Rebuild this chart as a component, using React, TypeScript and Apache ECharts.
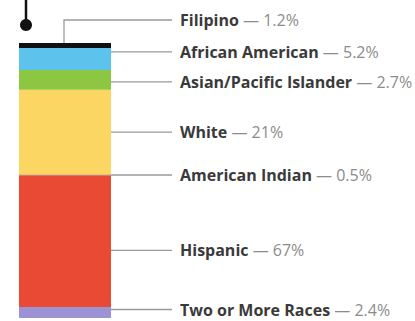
import React, { useEffect, useRef } from "react";
import * as echarts from "echarts";

// Categories, top to bottom as drawn
const categories = [
  "Filipino",
  "African American",
  "Asian/Pacific Islander",
  "White",
  "American Indian",
  "Hispanic",
  "Two or More Races",
];
// Reported shares (%)
const percents = [1.2, 5.2, 2.7, 21, 0.5, 67, 2.4];
// Band heights as drawn in the reference bar (not proportional to the shares)
const bandHeights = [5, 22, 20, 85, 1, 132, 11];

const colors = ["#111111", "#5ec3ec", "#8dc641", "#fbd663", "#a9583a", "#e84a33", "#9d92d4"];
// pixel nudges of the label rows relative to the band centres
const labelNudge = [0, -7, 2, 0, 0, 9, -3];

export default function App() {
  const ref = useRef<HTMLDivElement>(null);
  useEffect(() => {
    if (!ref.current) return;
    const chart = echarts.init(ref.current, null, { renderer: "svg" });
    const n = categories.length;
    const total = bandHeights.reduce((a, b) => a + b, 0);
    // stack bottom-up
    const order = [...Array(n).keys()].reverse();
    const barSeries = order.map((i) => ({
      type: "bar",
      name: categories[i],
      stack: "all",
      barWidth: "100%",
      data: [bandHeights[i]],
      itemStyle: { color: colors[i] },
      silent: true,
    }));
    const below = (i: number) => {
      let s = 0;
      for (let k = i + 1; k < n; k++) s += bandHeights[k];
      return s;
    };
    const customSeries = {
      type: "custom",
      silent: true,
      data: categories.map((_, i) => [i]),
      renderItem: (params: any, api: any) => {
        const i = api.value(0);
        const b = below(i);
        const t = b + bandHeights[i];
        const mid = api.coord([0, (b + t) / 2]);
        const top = api.coord([0, t]);
        const size = api.size([1, 0]);
        const cx = mid[0] - 1;
        const right = mid[0] + size[0] / 2;
        const lineEnd = 172;
        const textX = 180;
        const lineStyle = { stroke: "#9a9a9a", lineWidth: 1.3 };
        const children: any[] = [];
        let y: number;
        if (i === 0) {
          y = top[1] - 23;
          children.push({
            type: "polyline",
            shape: { points: [[cx, top[1]], [cx, y], [lineEnd, y]] },
            style: { ...lineStyle, fill: "none" },
          });
        } else {
          y = mid[1] + labelNudge[i];
          children.push({
            type: "line",
            shape: { x1: right, y1: y, x2: lineEnd, y2: y },
            style: lineStyle,
          });
        }
        children.push({
          type: "text",
          x: textX,
          y: y,
          style: {
            text: `{b|${categories[i]}}{v| — ${percents[i]}%}`,
            verticalAlign: "middle",
            align: "left",
            rich: {
              b: { fontFamily: "Open Sans", fontWeight: "bold", fontSize: 16, fill: "#3a3a3a", lineHeight: 16 },
              v: { fontFamily: "Open Sans", fontWeight: "normal", fontSize: 16, fill: "#8c8c8c", lineHeight: 16 },
            },
          },
        });
        return { type: "group", children };
      },
    };
    chart.setOption({
      animation: false,
      grid: { left: 19, right: 304, top: 43, bottom: 3 },
      xAxis: { type: "category", data: ["all"], show: false },
      yAxis: { type: "value", min: 0, max: total, show: false },
      graphic: [
        { type: "line", shape: { x1: 26, y1: 0, x2: 26, y2: 25 }, style: { stroke: "#111", lineWidth: 2.5 } },
        { type: "circle", shape: { cx: 26, cy: 25, r: 6 }, style: { fill: "#111" } },
      ],
      series: [...barSeries, customSeries],
    });
    return () => chart.dispose();
  }, []);
  return (
    <div
      ref={ref}
      style={{ position: "fixed", left: 0, top: 0, width: 415, height: 321, background: "#fff" }}
    />
  );
}
